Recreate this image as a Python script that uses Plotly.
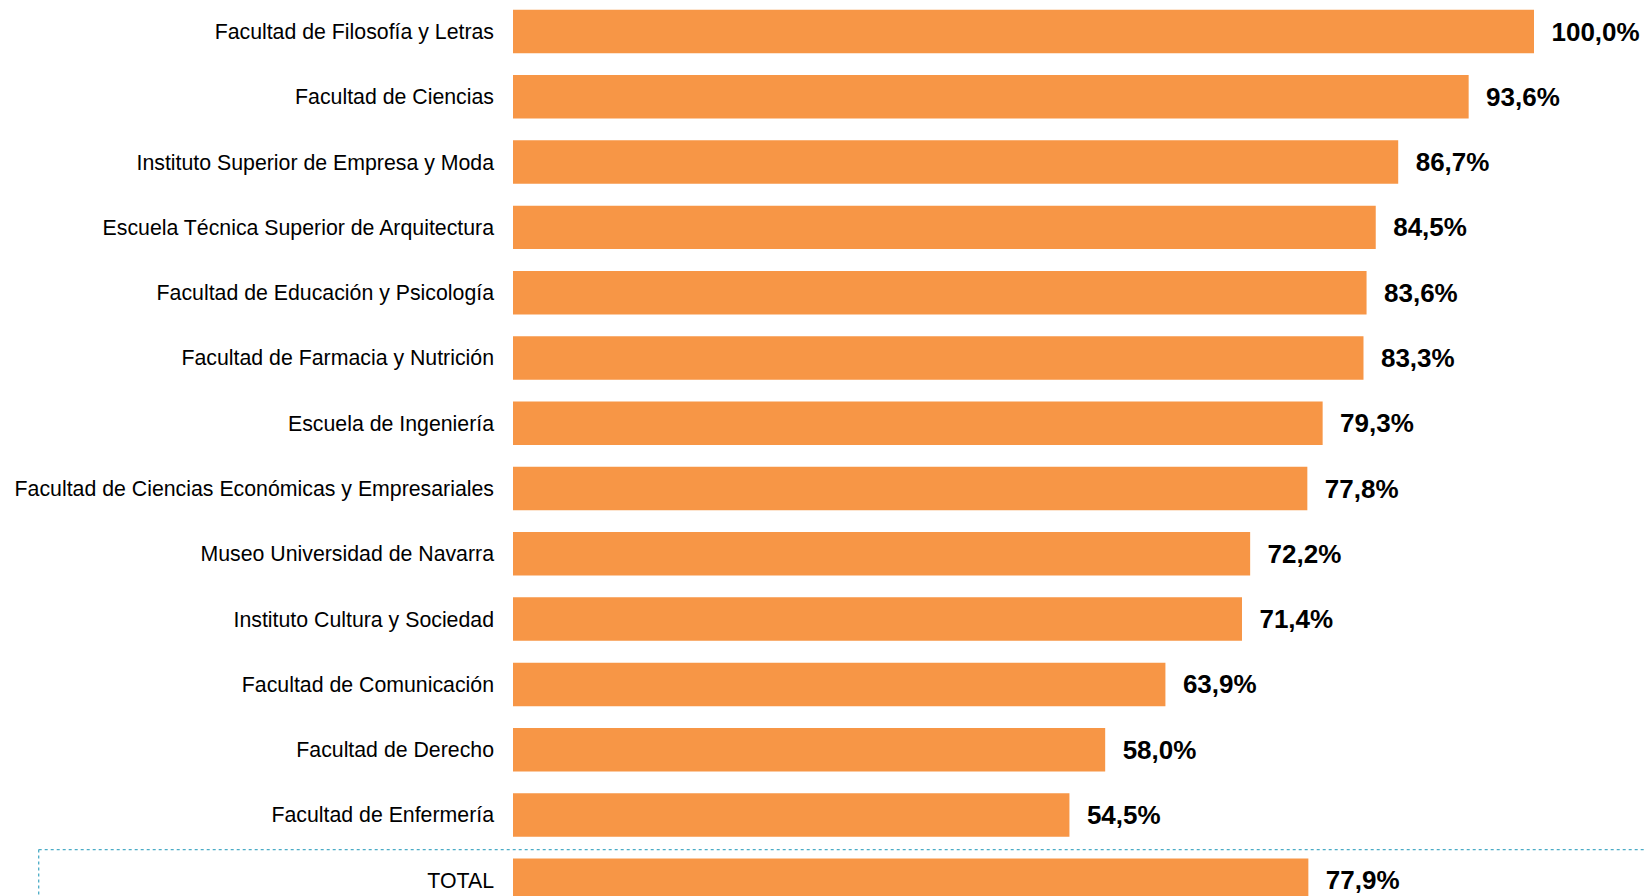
import plotly.graph_objects as go

categories = [
    "Facultad de Filosofía y Letras",
    "Facultad de Ciencias",
    "Instituto Superior de Empresa y Moda",
    "Escuela Técnica Superior de Arquitectura",
    "Facultad de Educación y Psicología",
    "Facultad de Farmacia y Nutrición",
    "Escuela de Ingeniería",
    "Facultad de Ciencias Económicas y Empresariales",
    "Museo Universidad de Navarra",
    "Instituto Cultura y Sociedad",
    "Facultad de Comunicación",
    "Facultad de Derecho",
    "Facultad de Enfermería",
    "TOTAL",
]
values = [100.0, 93.6, 86.7, 84.5, 83.6, 83.3, 79.3, 77.8, 72.2, 71.4, 63.9, 58.0, 54.5, 77.9]

BAR_COLOR = "#F79646"
BOX_COLOR = "#4BACC6"

FIG_W = 1644
FIG_H = 896
ROW_PX = 65.29

fig = go.Figure()
fig.add_trace(go.Bar(
    y=categories,
    x=values,
    orientation="h",
    marker=dict(color=BAR_COLOR, line=dict(width=0)),
    width=0.666,
    texttemplate="\u00a0\u00a0%{x:.1f}%",
    textposition="outside",
    textfont=dict(family="Liberation Sans, Arial, sans-serif", size=26, color="#000000", weight="bold"),
    cliponaxis=False,
    hoverinfo="skip",
))

plot_left = 513
plot_width = FIG_W - plot_left
x_max = plot_width / 1021 * 100
box_x0 = (38.7 - plot_left) / plot_width

y_top = -31.5 / ROW_PX
y_bottom = y_top + FIG_H / ROW_PX

fig.update_layout(
    width=FIG_W,
    height=FIG_H,
    margin=dict(l=plot_left, r=0, t=0, b=0),
    paper_bgcolor="white",
    plot_bgcolor="white",
    showlegend=False,
    hovermode=False,
    separators=",.",
    font=dict(family="Liberation Sans, Arial, sans-serif", color="#000000"),
    xaxis=dict(range=[0, x_max], visible=False, showgrid=False, zeroline=False, fixedrange=True),
    yaxis=dict(
        range=[y_bottom, y_top],
        showgrid=False,
        zeroline=False,
        showline=False,
        ticks="",
        ticklabelstandoff=18,
        tickfont=dict(size=21.3, color="#000000"),
        fixedrange=True,
    ),
    shapes=[
        dict(type="line", xref="paper", yref="y", x0=box_x0, x1=1, y0=12.53, y1=12.53,
             line=dict(color=BOX_COLOR, width=1.3, dash="dot")),
        dict(type="line", xref="paper", yref="y", x0=box_x0, x1=box_x0, y0=12.53, y1=y_bottom + 0.1,
             line=dict(color=BOX_COLOR, width=1.3, dash="dot")),
    ],
)

fig.write_html(
    "out.html",
    config={"displayModeBar": False, "staticPlot": True},
    post_script="document.body.style.margin='0';document.body.style.overflow='hidden';",
)
